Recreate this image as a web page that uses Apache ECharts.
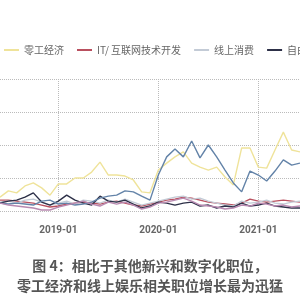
<!DOCTYPE html>
<html><head><meta charset="utf-8">
<script src="https://cdn.jsdelivr.net/npm/echarts@6/dist/echarts.min.js"></script>
<style>html,body{margin:0;padding:0;background:#fff}#c{width:300px;height:300px}</style>
</head><body><div id="c"></div>
<script>
var months = ['2018-06','2018-07','2018-08','2018-09','2018-10','2018-11','2018-12',
 '2019-01','2019-02','2019-03','2019-04','2019-05','2019-06','2019-07','2019-08','2019-09','2019-10','2019-11','2019-12',
 '2020-01','2020-02','2020-03','2020-04','2020-05','2020-06','2020-07','2020-08','2020-09','2020-10','2020-11','2020-12',
 '2021-01','2021-02','2021-03','2021-04','2021-05','2021-06'];
var seriesNames = ['零工经济','IT/ 互联网技术开发','线上消费','自由职业','线上娱乐','数字化运营'];
var gigEconomy = [42,61,55,76,85,70,48,82,82,100,100,118,148,109,109,106,94,58,55,124,145,164,179,145,133,124,133,103,79,191,191,133,130,185,239,185,179];
var itDev = [33,33,30,27,24,18,12,15,21,24,27,24,21,27,30,24,18,15,21,27,33,36,42,39,33,27,24,21,18,24,36,30,27,30,33,30,27];
var onlineConsumption = [27,30,24,33,36,27,18,24,30,21,33,30,24,33,27,36,27,18,24,30,36,42,45,36,39,30,24,18,15,30,24,27,33,24,21,27,30];
var freelance = [24,30,33,42,55,27,18,30,48,33,24,18,45,30,27,33,21,9,15,27,24,18,24,27,15,18,9,15,12,24,15,18,24,15,12,9,9];
var onlineEntertainment = [24,21,24,21,18,30,33,21,24,18,21,27,39,45,48,61,58,45,33,109,164,188,164,212,161,200,164,124,85,58,121,109,91,121,155,139,145];
var digitalOps = [24,18,15,12,9,3,3,12,18,24,30,21,15,27,21,27,18,6,12,24,27,33,39,30,18,15,12,6,9,18,15,24,21,15,18,12,15];
var colors = ['#efe39a','#b9505f','#c3cbd6','#2d3048','#6383a8','#b889b0'];
var captionLines = ['图 4：相比于其他新兴和数字化职位，','零工经济和线上娱乐相关职位增长最为迅猛'];

var dataList = [gigEconomy, itDev, onlineConsumption, freelance, onlineEntertainment, digitalOps];
var isYear = function (idx, val) { return months[idx].slice(5) === '01'; };
var chart = echarts.init(document.getElementById('c'));
chart.setOption({
  animation: false,
  color: colors,
  textStyle: { fontFamily: 'Noto Sans CJK SC' },
  title: {
    text: captionLines.join('\n'), left: 'center', top: 251,
    textStyle: { fontSize: 14, fontWeight: 'bold', color: '#555', lineHeight: 20, fontFamily: 'Noto Sans CJK SC' }
  },
  legend: {
    left: -1, top: 40, width: 2000, orient: 'horizontal', icon: 'rect', itemWidth: 15, itemHeight: 2, itemGap: 13,
    textStyle: { fontSize: 10, color: '#666' },
    data: seriesNames
  },
  grid: { left: 0, right: -5, top: 79, bottom: 89, containLabel: false },
  xAxis: {
    type: 'category', data: months, boundaryGap: false,
    axisLine: { show: false }, axisTick: { show: false },
    axisLabel: { interval: isYear, color: '#666', fontSize: 10, fontWeight: 'bold', margin: 14, fontFamily: 'Roboto' },
    splitLine: { show: true, interval: isYear, lineStyle: { type: 'dotted', color: '#bbb' } }
  },
  yAxis: {
    type: 'value', min: 0, max: 400, interval: 100,
    axisLabel: { show: false }, axisLine: { show: false }, axisTick: { show: false },
    splitLine: { lineStyle: { type: 'dotted', color: '#bbb' } }
  },
  series: seriesNames.map(function (n, k) {
    return { name: n, type: 'line', data: dataList[k], showSymbol: false, lineStyle: { width: 1.4 }, z: k === 0 ? 1 : 2 };
  })
});
</script></body></html>
